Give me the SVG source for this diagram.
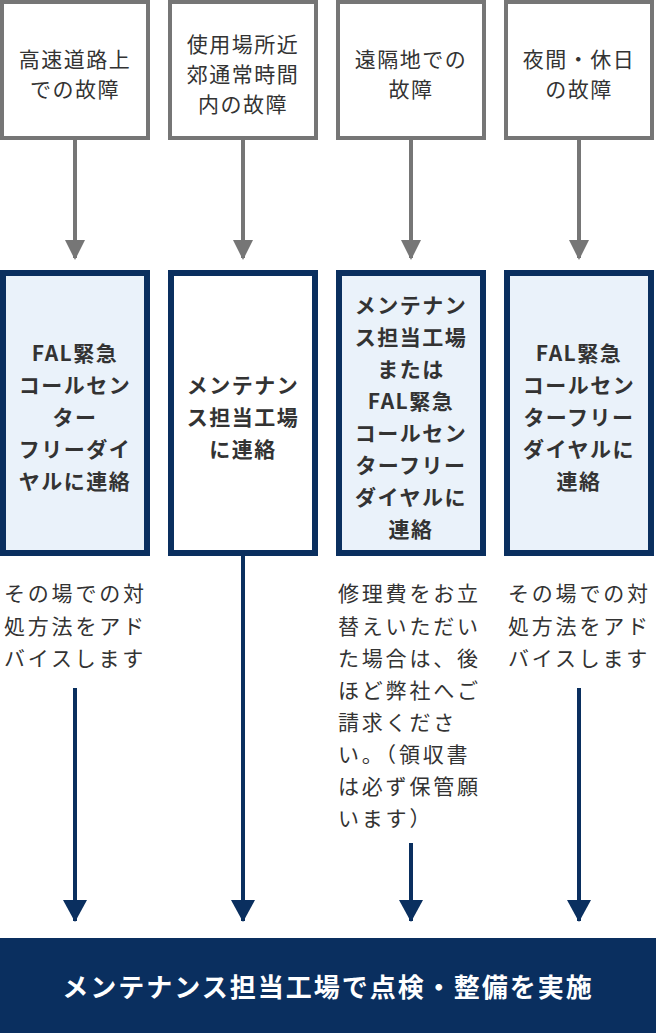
<svg xmlns="http://www.w3.org/2000/svg" width="656" height="1033" viewBox="0 0 656 1033">
<style>
text{font-family:"Noto Sans CJK JP","Noto Sans",sans-serif;fill:#333;font-size:21px;letter-spacing:1.5px}
.top{fill:#fff;stroke:#767676;stroke-width:4}
.mid{fill:#eaf2fa;stroke:#0a2f5f;stroke-width:6}
.w{fill:#fff}
.c{text-anchor:middle}
.b{font-weight:bold}
.nt{font-size:21px;letter-spacing:2.8px}
.ga{stroke:#767676;stroke-width:4}
.na{stroke:#0a2f5f;stroke-width:4}
</style>
<defs>
<marker id="g" markerWidth="20" markerHeight="20" refX="18" refY="10" orient="auto" markerUnits="userSpaceOnUse" viewBox="0 0 20 20"><path d="M0,0L20,10L0,20Z" fill="#767676"/></marker>
<marker id="n" markerWidth="22" markerHeight="24" refX="21" refY="12" orient="auto" markerUnits="userSpaceOnUse" viewBox="0 0 22 24"><path d="M0,0L22,12L0,24Z" fill="#0a2f5f"/></marker>
</defs>
<g id="top1"><rect class="top" x="2" y="2" width="146" height="136"/><text class="c" x="75" y="67">高速道路上</text><text class="c" x="75" y="97">での故障</text></g>
<g id="top2"><rect class="top" x="170" y="2" width="146" height="136"/><text class="c" x="243" y="52">使用場所近</text><text class="c" x="243" y="82">郊通常時間</text><text class="c" x="243" y="112">内の故障</text></g>
<g id="top3"><rect class="top" x="338" y="2" width="146" height="136"/><text class="c" x="411" y="67">遠隔地での</text><text class="c" x="411" y="97">故障</text></g>
<g id="top4"><rect class="top" x="506" y="2" width="146" height="136"/><text class="c" x="579" y="67">夜間・休日</text><text class="c" x="579" y="97">の故障</text></g>

<g id="mid1"><rect class="mid" x="3" y="273" width="144" height="280"/>
<text class="c b" x="75" y="361">FAL緊急</text><text class="c b" x="75" y="393">コールセン</text><text class="c b" x="75" y="425">ター</text><text class="c b" x="75" y="457">フリーダイ</text><text class="c b" x="75" y="489">ヤルに連絡</text></g>
<g id="mid2"><rect class="mid w" x="171" y="273" width="144" height="280"/>
<text class="c b" x="243" y="393">メンテナン</text><text class="c b" x="243" y="425">ス担当工場</text><text class="c b" x="243" y="457">に連絡</text></g>
<g id="mid3"><rect class="mid" x="339" y="273" width="144" height="280"/>
<text class="c b" x="411" y="313">メンテナン</text><text class="c b" x="411" y="345">ス担当工場</text><text class="c b" x="411" y="377">または</text><text class="c b" x="411" y="409">FAL緊急</text><text class="c b" x="411" y="441">コールセン</text><text class="c b" x="411" y="473">ターフリー</text><text class="c b" x="411" y="505">ダイヤルに</text><text class="c b" x="411" y="537">連絡</text></g>
<g id="mid4"><rect class="mid" x="507" y="273" width="144" height="280"/>
<text class="c b" x="579" y="361">FAL緊急</text><text class="c b" x="579" y="393">コールセン</text><text class="c b" x="579" y="425">ターフリー</text><text class="c b" x="579" y="457">ダイヤルに</text><text class="c b" x="579" y="489">連絡</text></g>

<g id="note1" class="nt"><text class="nt" x="4" y="601">その場での対</text><text class="nt" x="4" y="634">処方法をアド</text><text class="nt" x="4" y="666">バイスします</text></g>
<g id="note3"><text class="nt" x="338" y="601">修理費をお立</text><text class="nt" x="338" y="634">替えいただい</text><text class="nt" x="338" y="666">た場合は、後</text><text class="nt" x="338" y="698">ほど弊社へご</text><text class="nt" x="338" y="730">請求くださ</text><text class="nt" x="338" y="762">い。（領収書</text><text class="nt" x="338" y="794">は必ず保管願</text><text class="nt" x="338" y="826">います）</text></g>
<g id="note4"><text class="nt" x="508" y="601">その場での対</text><text class="nt" x="508" y="634">処方法をアド</text><text class="nt" x="508" y="666">バイスします</text></g>

<g id="connectors">
<line class="ga" x1="75" y1="140" x2="75" y2="258" marker-end="url(#g)"/>
<line class="ga" x1="243" y1="140" x2="243" y2="258" marker-end="url(#g)"/>
<line class="ga" x1="411" y1="140" x2="411" y2="258" marker-end="url(#g)"/>
<line class="ga" x1="579" y1="140" x2="579" y2="258" marker-end="url(#g)"/>
<line class="na" x1="75" y1="688" x2="75" y2="921" marker-end="url(#n)"/>
<line class="na" x1="243" y1="556" x2="243" y2="921" marker-end="url(#n)"/>
<line class="na" x1="411" y1="843" x2="411" y2="921" marker-end="url(#n)"/>
<line class="na" x1="579" y1="688" x2="579" y2="921" marker-end="url(#n)"/>
</g>
<g id="result"><rect x="0" y="938" width="656" height="95" fill="#0a2f5f"/>
<text class="c b" x="328" y="997" style="fill:#fff;font-size:26px;letter-spacing:2px">メンテナンス担当工場で点検・整備を実施</text></g>
</svg>
